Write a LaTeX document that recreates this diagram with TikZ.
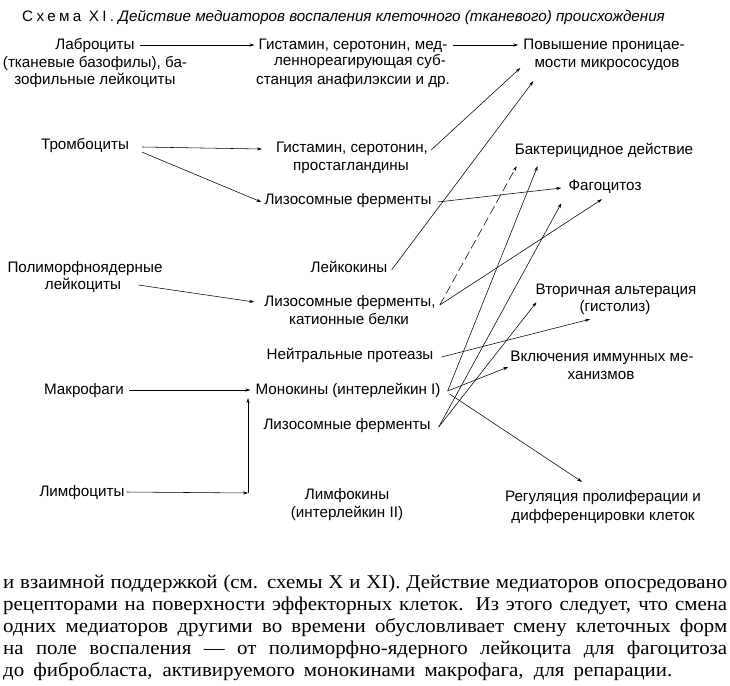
\documentclass[tikz,border=0pt]{standalone}
\usepackage{fontspec}
\setmainfont{Liberation Sans}
\newfontfamily\paraserif[FakeStretch=1.07]{Liberation Serif}
\usetikzlibrary{arrows.meta}
\begin{document}
\begin{tikzpicture}[x=1pt,y=-1pt,
  lbl/.style={font=\fontsize{15.2}{17}\selectfont, inner sep=0pt, text height=11pt, text depth=3pt, anchor=center},
  conn/.style={-{Stealth[length=5pt,width=3.2pt]}, line width=0.55pt},
  plainline/.style={line width=0.55pt}]
\useasboundingbox[fill=white] (0,0) rectangle (730,685);

% title
\node[inner sep=0pt, anchor=west, font=\fontsize{15.2}{17}\selectfont] (title) at (22,17)
  {{\addfontfeatures{LetterSpace=22}Схема XI.} \itshape Действие медиаторов воспаления клеточного (тканевого) происхождения};

% left column
\node[lbl] (lab1) at (95,45) {Лаброциты};
\node[lbl] (lab2) at (95,63) {(тканевые базофилы), ба-};
\node[lbl] (lab3) at (95,80) {зофильные лейкоциты};
\node[lbl] (trom) at (85,145) {Тромбоциты};
\node[lbl] (poly1) at (85,268) {Полиморфноядерные};
\node[lbl] (poly2) at (83,285) {лейкоциты};
\node[lbl] (makro) at (84,390) {Макрофаги};
\node[lbl] (limf) at (82,492) {Лимфоциты};

% middle column
\node[lbl] (ist1a) at (353,45) {Гистамин, серотонин, мед-};
\node[lbl] (ist1b) at (360,62) {ленно{}реагирующая суб-};
\node[lbl] (ist1c) at (353,80) {станция анафилэксии и др.};
\node[lbl] (ist2a) at (352,148) {Гистамин, серотонин,};
\node[lbl] (ist2b) at (351,166) {простагландины};
\node[lbl] (liz1) at (348,200) {Лизосомные ферменты};
\node[lbl] (leik) at (349,268) {Лейкокины};
\node[lbl] (lizk1) at (350,302) {Лизосомные ферменты,};
\node[lbl] (lizk2) at (349,320) {катионные белки};
\node[lbl] (neut) at (350,355) {Нейтральные протеазы};
\node[lbl] (mono) at (348,390) {Монокины (интерлейкин I)};
\node[lbl] (liz3) at (347,425) {Лизосомные ферменты};
\node[lbl] (limfk1) at (347,495) {Лимфокины};
\node[lbl] (limfk2) at (347,513) {(интерлейкин II)};

% right column
\node[lbl] (pov1) at (604,45) {Повышение проницае-};
\node[lbl] (pov2) at (607,63) {мости микрососудов};
\node[lbl] (bakt) at (604,150) {Бактерицидное действие};
\node[lbl] (fago) at (605,186) {Фагоцитоз};
\node[lbl] (vtor1) at (616,290) {Вторичная альтерация};
\node[lbl] (vtor2) at (615,307) {(гистолиз)};
\node[lbl] (vkl1) at (602,357) {Включения иммунных ме-};
\node[lbl] (vkl2) at (601,375) {ханизмов};
\node[lbl] (reg1) at (603,497) {Регуляция пролиферации и};
\node[lbl] (reg2) at (603,516) {дифференцировки клеток};

\coordinate (corner) at (248,493);

% connectors
\draw[conn] ([xshift=5pt]lab1.east) -- ([xshift=-4pt]ist1a.west);
\draw[conn] ([xshift=5pt]ist1a.east) -- ([xshift=-5pt]pov1.west);
\draw[conn] ([xshift=13pt,yshift=-2pt]trom.east) -- ([xshift=-14pt,yshift=-1pt]ist2a.west);
\draw[conn] ([xshift=13pt]trom.south east) -- ([xshift=-3pt,yshift=-2pt]liz1.west);
\draw[conn] ([xshift=17pt]poly2.east) -- ([xshift=-10pt]lizk1.west);
\draw[conn] ([xshift=5pt]makro.east) -- ([xshift=-5pt]mono.west);
\draw[conn] ([xshift=2pt]limf.east) -- (corner);
\draw[conn] (corner) -- ([yshift=-1pt]corner |- mono.south);

\draw[conn] ([xshift=3pt,yshift=-2pt]ist2a.east) -- ([xshift=-14pt,yshift=-5pt]pov2.west);
\draw[conn] ([xshift=4pt,yshift=-2pt]leik.east) -- ([xshift=-1pt,yshift=-11pt]pov2.south west);
\draw[conn] ([xshift=6pt,yshift=-2pt]liz1.east) -- ([xshift=-7pt,yshift=-2pt]fago.west);
\draw[conn, dashed, dash pattern=on 9pt off 4pt] ([xshift=4pt,yshift=-3pt]lizk1.east) -- ([xshift=2pt,yshift=-9pt]bakt.south west);
\draw[conn] ([xshift=4pt,yshift=-3pt]lizk1.east) -- ([xshift=-3pt,yshift=-6pt]fago.south);
\draw[conn] ([xshift=7pt,yshift=-1pt]mono.east) -- ([xshift=23pt,yshift=-9pt]bakt.south west);
\draw[conn] ([xshift=8pt,yshift=-2pt]liz3.east) -- ([xshift=-7pt,yshift=-10pt]fago.south west);
\draw[conn] ([xshift=8pt,yshift=-2pt]liz3.east) -- ([xshift=1pt,yshift=-5pt]vtor1.south west);
\draw[conn] ([xshift=8pt,yshift=-2pt]neut.east) -- ([xshift=-25pt,yshift=-5pt]vtor2.south);
\draw[conn] ([xshift=7pt,yshift=-1pt]mono.east) -- ([xshift=-2pt,yshift=-10pt]vkl1.west);
\draw[conn] ([xshift=9pt,yshift=-4pt]mono.east) -- ([xshift=-21pt,yshift=8pt]reg1.north);

% paragraph
\node[inner sep=0pt, anchor=base west] (para) at (3,588)
 {\parbox[t]{724pt}{\paraserif\fontsize{19.5}{22}\selectfont
  \makebox[724pt][s]{и взаимной поддержкой (см. схемы X и XI). Действие медиаторов опосредовано}\\
  \makebox[724pt][s]{рецепторами на поверхности эффекторных клеток. Из этого следует, что смена}\\
  \makebox[724pt][s]{одних медиаторов другими во времени обусловливает смену клеточных форм}\\
  \makebox[724pt][s]{на поле воспаления — от полиморфно-ядерного лейкоцита для фагоцитоза}\\
  \makebox[669pt][s]{до фибробласта, активируемого монокинами макрофага, для репарации.}}};
\end{tikzpicture}
\end{document}
